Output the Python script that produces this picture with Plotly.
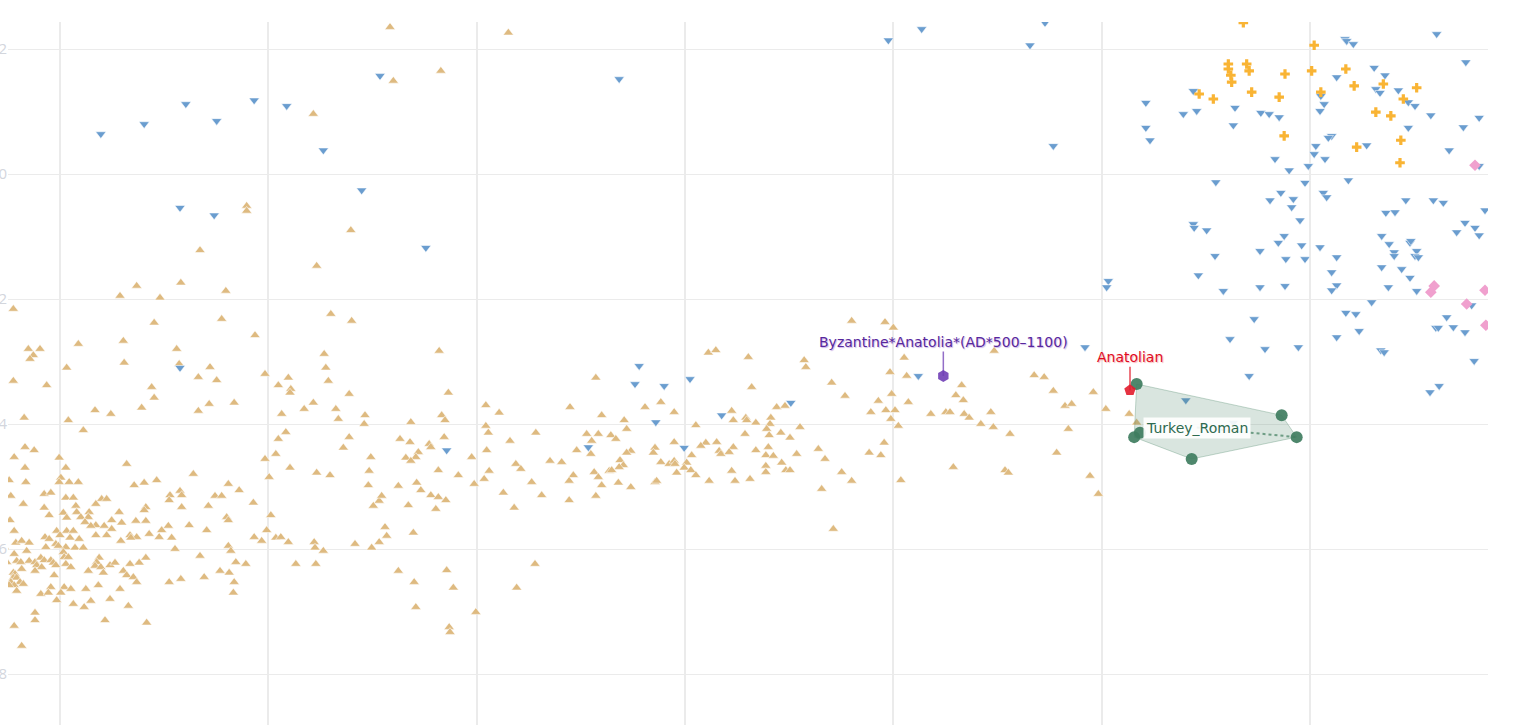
import plotly.graph_objects as go

# PCA scores, stored in units of 1e-4
SCALE = 1e-4

# ancient / west-eurasian samples (tan triangles)
tan_pc1 = [
    -354, -293, -350, -446, -526, -526, -401, -582, -442, -212,
    -658, -605, -678, -630, -551, -806, -637, -556, -425, -400,
    -516, -728, -674, -788, -774, -782, -786, -610, -433, -742,
    -673, -607, -570, -431, -806, -766, -584, -562, -504, -476,
    -428, -640, -488, -473, -474, -403, -637, -708, -689, -652,
    -584, -571, -541, -793, -740, -484, -457, -446, -419, -416,
    -384, -385, -722, -479, -488, -403, -410, -792, -781, -805,
    -751, -491, -504, -377, -670, -792, -743, -474, -379, -590,
    -442, -426, -499, -749, -791, -751, -739, -728, -811, -634,
    -661, -649, -380, -548, -535, -769, -761, -618, -606, -604,
    -564, -556, -619, -809, -743, -734, -700, -694, -367, -794,
    -707, -518, -604, -572, -374, -769, -731, -647, -746, -730,
    -715, -679, -649, -763, -725, -742, -716, -550, -548, -497,
    -810, -720, -659, -647, -688, -676, -707, -697, -713, -620,
    -595, -688, -628, -574, -502, -805, -754, -742, -734, -750,
    -707, -694, -666, -658, -643, -631, -517, -768, -763, -738,
    -727, -665, -616, -491, -485, -508, -476, -677, -803, -796,
    -787, -755, -752, -767, -743, -732, -722, -612, -548, -545,
    -445, -444, -434, -396, -376, -367, -817, -805, -790, -746,
    -745, -740, -703, -647, -582, -802, -797, -787, -780, -773,
    -769, -761, -758, -814, -778, -772, -755, -743, -737, -706,
    -708, -701, -690, -684, -666, -655, -539, -527, -467, -443,
    -796, -780, -716, -674, -698, -670, -558, -547, -806, -804,
    -757, -662, -658, -806, -802, -798, -809, -794, -805, -811,
    -619, -605, -577, -541, -761, -745, -737, -719, -704, -678,
    -802, -773, -764, -749, -542, -754, -690, -713, -734, -721,
    -668, -780, -780, -696, -646, -805, -796,
    -295, -284, -292, -288, -329, -239, -223, -239, -236, -289,
    -342, -330, -307, -305, -320, -323, -335, -329, -256, -238,
    -210, -179, -138, -107, -100, -118, -104, -112, -89, -83,
    -73, -70, -48, -29, -13, 28, 37, 76, 80, 56,
    58, 73, 74, 85, 13, 72, -13, 25, 38, 19,
    58, 41, 43, 53, 85, -36, -38, 8, -130, -113,
    -65, -70, -78, -74, -79, -91, -88, -29, -19, -13,
    -12, 2, -1, 7, -10, 13, 29, 56, 60, 78,
    -36, -34, -162, -148, -203, -197, -235, -241, -253, -272,
    -296, -322, -317, -344, -305, -296, -287, -299, -332, -364,
    -184, -218, -172, -205, -134, -139, -139, -109, -104, -100,
    -107, -80, -65, -360, -358, -326, -344, -325, -286, -278,
    -323, -180, -202, -251, -283, -282,
    200, 240, 250, 143, 145, 263, 371, 246, 266, 176,
    192, 332, 325, 334, 248, 268, 232, 419, 431, 442,
    490, 456, 464, 505, 533, 110, 120, 103, 102, 98,
    101, 115, 126, 138, 223, 241, 252, 247, 256, 295,
    313, 318, 335, 341, 367, 355, 370, 390, 460, 239,
    221, 235, 160, 168, 134, 100, 97, 106, 116, 97,
    97, 121, 126, 446, 322, 384, 388, 188, 200, 259,
    164, 486, 496, 178, 542,
]
tan_pc2 = [
    235, 165, 149, 96, -51, -59, -90, -122, -147, 226,
    -179, -174, -195, -198, -187, -216, -238, -232, -224, -235,
    -258, -272, -267, -280, -280, -290, -296, -280, -288, -310,
    -302, -304, -309, -310, -331, -338, -325, -330, -320, -326,
    -331, -341, -338, -344, -350, -352, -358, -378, -384, -374,
    -379, -368, -366, -390, -394, -384, -376, -366, -376, -392,
    -386, -400, -410, -413, -424, -421, -438, -437, -442, -453,
    -454, -448, -456, -453, -464, -470, -470, -470, -475, -480,
    -478, -482, -485, -486, -493, -493, -493, -493, -490, -490,
    -498, -494, -498, -496, -506, -512, -510, -514, -507, -514,
    -515, -515, -522, -515, -518, -518, -520, -520, -523, -528,
    -528, -526, -533, -531, -531, -534, -531, -533, -542, -541,
    -541, -541, -538, -546, -549, -550, -549, -549, -554, -546,
    -554, -557, -555, -555, -554, -558, -562, -563, -563, -563,
    -562, -568, -570, -570, -570, -571, -571, -571, -571, -578,
    -578, -578, -578, -581, -576, -581, -581, -581, -584, -582,
    -584, -582, -582, -582, -581, -587, -589, -587, -590, -587,
    -590, -592, -595, -597, -597, -598, -598, -600, -595, -603,
    -589, -598, -603, -592, -598, -589, -597, -608, -603, -605,
    -613, -613, -614, -614, -611, -619, -621, -619, -621, -614,
    -618, -618, -622, -621, -626, -629, -626, -624, -629, -621,
    -627, -629, -626, -622, -624, -622, -621, -624, -624, -624,
    -632, -635, -635, -635, -638, -642, -635, -638, -638, -640,
    -642, -645, -653, -646, -646, -653, -653, -656, -658, -658,
    -653, -648, -645, -653, -661, -661, -664, -664, -658, -664,
    -667, -672, -670, -670, -670, -682, -680, -683, -688, -693,
    -691, -702, -714, -714, -718, -723, -755,
    -283, -350, -386, -394, -397, -370, -382, -403, -414, -421,
    -424, -429, -432, -437, -445, -453, -454, -459, -453, -442,
    -427, -414, -373, -326, -386, -416, -416, -427, -418, -424,
    -394, -408, -373, -365, -381, -286, -282, -293, -341, -379,
    -394, -390, -394, -398, -402, -416, -429, -430, -429, -435,
    -437, -443, -448, -445, -442, -438, -446, -450, -442, -448,
    -443, -446, -458, -466, -469, -475, -474, -461, -464, -459,
    -464, -462, -470, -474, -478, -482, -491, -475, -491, -488,
    -493, -491, -459, -461, -464, -472, -475, -488, -496, -482,
    -474, -494, -506, -499, -514, -517, -522, -536, -530, -515,
    -493, -510, -514, -534, -482, -491, -522, -477, -485, -498,
    -515, -494, -501, -565, -579, -574, -635, -653, -634, -662,
    -693, -624, -662, -701, -725, -733,
    -235, -237, -246, -298, -309, -294, -283, -317, -323, -334,
    -355, -338, -354, -362, -352, -365, -363, -322, -325, -347,
    -349, -371, -368, -376, -384, -373, -371, -390, -400, -408,
    -418, -414, -422, -405, -381, -378, -378, -392, -403, -384,
    -381, -381, -384, -390, -381, -400, -405, -416, -408, -430,
    -446, -450, -440, -456, -448, -437, -450, -451, -462, -467,
    -477, -474, -474, -446, -469, -474, -478, -477, -491, -490,
    -504, -483, -512, -568, -398,
]

# blue triangles (pointing down)
blue_pc1 = [
    -701, -649, -599, -562, -517, -478, -434, -366, -388, -606,
    -565, -311, -79, 244, 284, 414, 432, 442, -606, -286,
    -55, -60, -25, 6, -35, -116, -1, 44, 127, 280,
    480, 601, 658, 902, 792, 794, 802, 937, 827, 840,
    782, 610, 829, 834, 856, 763, 767, 553, 614, 598,
    660, 691, 701, 713, 762, 868, 876, 895, 953, 553,
    558, 658, 868, 934, 776, 772, 757, 818, 755, 768,
    708, 917, 748, 725, 953, 637, 796, 744, 715, 766,
    770, 702, 730, 728, 865, 898, 910, 960, 841, 852,
    738, 610, 611, 626, 936, 948, 926, 953, 719, 712,
    836, 845, 870, 871, 740, 762, 690, 636, 721, 744,
    782, 851, 851, 878, 876, 880, 836, 860, 776, 870,
    616, 508, 506, 646, 690, 720, 782, 776, 844, 878,
    824, 944, 793, 805, 914, 683, 901, 904, 922, 936,
    809, 654, 782, 696, 736, 835, 839, 947, 677, 894,
    905,
]
blue_pc2 = [
    64, 80, 112, 85, 118, 109, 38, 157, -26, -54,
    -66, -118, 152, 214, 232, 206, 242, 45, -310, -442,
    -307, -336, -339, -328, -397, -437, -438, -386, -366, -323,
    -277, -362, -398, 224, 216, 213, 208, 179, 170, 158,
    155, 133, 136, 130, 134, 125, 112, 114, 101, 96,
    106, 98, 96, 91, 101, 115, 109, 94, 90, 74,
    54, 78, 74, 75, 61, 58, 45, 46, 32, 24,
    24, 38, 13, 6, 13, -13, -10, -14, -30, -30,
    -37, -42, -40, -53, -42, -42, -46, -58, -62, -61,
    -74, -80, -86, -90, -78, -86, -93, -98, -99, -110,
    -99, -112, -110, -107, -114, -117, -123, -131, -136, -136,
    -133, -125, -131, -123, -131, -133, -149, -152, -157, -166,
    -162, -171, -181, -187, -181, -179, -178, -186, -181, -187,
    -205, -210, -222, -224, -229, -232, -246, -246, -245, -253,
    -251, -264, -261, -280, -277, -282, -285, -299, -323, -349,
    -339,
]

# orange crosses
orange_pc1 = [670, 755, 652, 674, 652, 677, 655, 656, 720, 752, 793, 617, 634,
              680, 713, 763, 803, 838, 878, 862, 829, 847, 719, 859, 806, 858]
orange_pc2 = [242, 206, 176, 176, 168, 165, 158, 147, 160, 165, 168, 128, 120,
              131, 123, 131, 141, 144, 138, 120, 99, 93, 61, 54, 43, 18]

# pink diamonds
pink_pc1 = [948, 899, 895, 960, 938, 961]
pink_pc2 = [14, -179, -189, -186, -208, -242]

# highlighted groups
turkey_roman_pc1 = [542, 716, 734, 608, 539, 546]
turkey_roman_pc2 = [-336, -386, -421, -456, -421, -414]
byzantine_pc = (310, -323)
anatolian_pc = (534, -346)


def sc(vals):
    return [v * SCALE for v in vals]


def hull(xs, ys):
    # plain monotone chain, closed polygon
    pts = sorted(set(zip(xs, ys)))

    def cross(o, a, b):
        return (a[0] - o[0]) * (b[1] - o[1]) - (a[1] - o[1]) * (b[0] - o[0])

    lower, upper = [], []
    for p in pts:
        while len(lower) >= 2 and cross(lower[-2], lower[-1], p) <= 0:
            lower.pop()
        lower.append(p)
    for p in reversed(pts):
        while len(upper) >= 2 and cross(upper[-2], upper[-1], p) <= 0:
            upper.pop()
        upper.append(p)
    h = lower[:-1] + upper[:-1]
    return h + [h[0]]


fig = go.Figure()

fig.add_trace(go.Scatter(x=sc(tan_pc1), y=sc(tan_pc2), mode='markers',
                         marker=dict(symbol='triangle-up', size=9, color='rgb(222,186,128)',
                                     line=dict(width=0.6, color='rgba(255,255,255,0.9)'))))
fig.add_trace(go.Scatter(x=sc(blue_pc1), y=sc(blue_pc2), mode='markers',
                         marker=dict(symbol='triangle-down', size=9, color='rgb(106,157,207)',
                                     line=dict(width=0.6, color='rgba(255,255,255,0.9)'))))
fig.add_trace(go.Scatter(x=sc(orange_pc1), y=sc(orange_pc2), mode='markers',
                         marker=dict(symbol='cross', size=8, color='rgb(249,180,52)')))
fig.add_trace(go.Scatter(x=sc(pink_pc1), y=sc(pink_pc2), mode='markers',
                         marker=dict(symbol='diamond', size=9, color='rgb(240,160,206)')))

# Turkey_Roman hull + members
hx, hy = zip(*hull(turkey_roman_pc1, turkey_roman_pc2))
fig.add_trace(go.Scatter(x=sc(hx), y=sc(hy), mode='lines', fill='toself',
                         fillcolor='rgba(63,125,93,0.2)',
                         line=dict(color='rgba(63,125,93,0.3)', width=1)))
cx = sum(turkey_roman_pc1) / len(turkey_roman_pc1)
cy = sum(turkey_roman_pc2) / len(turkey_roman_pc2)
far = max(range(len(turkey_roman_pc1)), key=lambda i: turkey_roman_pc1[i])
fig.add_trace(go.Scatter(x=sc([cx, turkey_roman_pc1[far]]), y=sc([cy, turkey_roman_pc2[far]]),
                         mode='lines', line=dict(color='rgba(63,125,93,0.7)', width=2, dash='dot')))
fig.add_trace(go.Scatter(x=sc(turkey_roman_pc1), y=sc(turkey_roman_pc2), mode='markers',
                         marker=dict(symbol='circle', size=12, color='rgb(63,125,95)', opacity=0.92)))

fig.add_trace(go.Scatter(x=sc([byzantine_pc[0]]), y=sc([byzantine_pc[1]]), mode='markers',
                         marker=dict(symbol='hexagon', size=12, color='rgb(112,62,182)', opacity=0.9)))
fig.add_trace(go.Scatter(x=sc([anatolian_pc[0]]), y=sc([anatolian_pc[1]]), mode='markers',
                         marker=dict(symbol='pentagon', size=12, color='rgb(226,28,44)', opacity=0.9)))

fig.add_annotation(x=byzantine_pc[0] * SCALE, y=byzantine_pc[1] * SCALE,
                   text='Byzantine*Anatolia*(AD*500–1100)', showarrow=True,
                   arrowhead=0, arrowwidth=1.5, arrowcolor='rgba(112,62,182,0.75)',
                   ax=0, ay=-34, standoff=0,
                   font=dict(family='DejaVu Sans', size=14, color='#58279c',
                             shadow='1px 1px 1px rgba(190,160,225,0.8)'))
fig.add_annotation(x=anatolian_pc[0] * SCALE, y=anatolian_pc[1] * SCALE,
                   text='Anatolian', showarrow=True,
                   arrowhead=0, arrowwidth=1.5, arrowcolor='rgba(226,28,44,0.8)',
                   ax=0, ay=-33, standoff=0,
                   font=dict(family='DejaVu Sans', size=14, color='#e00c1e',
                             shadow='1px 1px 1px rgba(245,160,165,0.8)'))
fig.add_annotation(x=cx * SCALE, y=cy * SCALE, text='Turkey_Roman', showarrow=False,
                   bgcolor='rgba(255,255,255,0.9)', borderpad=2,
                   font=dict(family='DejaVu Sans', size=14, color='#2e6a4f'))

fig.update_layout(
    width=1518, height=725,
    margin=dict(l=8, r=30, t=22, b=0, autoexpand=False),
    paper_bgcolor='white', plot_bgcolor='white',
    showlegend=False,
    xaxis=dict(range=[-0.08124, 0.09636], tick0=0, dtick=0.025, automargin=False,
               showgrid=True, gridcolor='#ebebeb', gridwidth=2,
               zeroline=False, showline=False, showticklabels=False, ticks=''),
    yaxis=dict(range=[-0.08816, 0.02432], tick0=0, dtick=0.02, automargin=False,
               showgrid=True, gridcolor='#ebebeb', gridwidth=1,
               zeroline=False, showline=False, ticks='',
               tickfont=dict(size=15, color='#d3d6dd')),
)

fig.write_html("out.html", config={'displayModeBar': False},
               post_script="document.body.style.margin='0';document.body.style.overflow='hidden';")
